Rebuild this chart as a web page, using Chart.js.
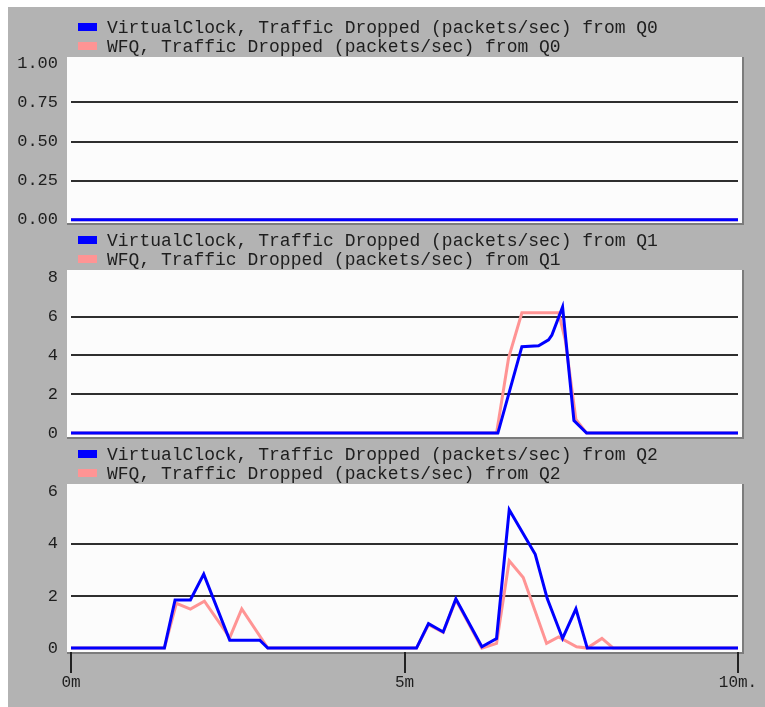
<!DOCTYPE html>
<html>
<head>
<meta charset="utf-8">
<script src="https://cdn.jsdelivr.net/npm/chart.js@4/dist/chart.umd.min.js"></script>
<style>
  body { margin: 0; background: #fff; }
  #page { position: relative; width: 765px; height: 707px; overflow: hidden; }
  #frame { position: absolute; left: 8px; top: 7px; width: 757px; height: 700px; background: #b3b3b3; }
  canvas { position: absolute; left: 0; }
</style>
</head>
<body>
<div id="page">
  <div id="frame"></div>
  <canvas id="c0" width="765" height="228" style="top:0px"></canvas>
  <canvas id="c1" width="765" height="214" style="top:228px"></canvas>
  <canvas id="c2" width="765" height="265" style="top:442px"></canvas>
</div>
<script>
// ── Datos ──────────────────────────────────────────────
const xTicks = [0, 5, 10];
const xTickLabels = ['0m', '5m', '10m.'];

const q0Ticks = [0, 0.25, 0.5, 0.75, 1];
const q0TickLabels = ['0.00', '0.25', '0.50', '0.75', '1.00'];
const q0Time = [0, 10];
const q0VC = [0, 0];
const q0WFQ = [0, 0];

const q1Ticks = [0, 2, 4, 6, 8];
const q1TickLabels = ['0', '2', '4', '6', '8'];
const q1VCTime = [0, 6.40, 6.76, 7.01, 7.16, 7.21, 7.37, 7.54, 7.73, 10];
const q1VC = [0, 0, 4.45, 4.5, 4.8, 5.05, 6.5, 0.65, 0, 0];
const q1WFQTime = [0, 6.38, 6.56, 6.76, 7.31, 7.41, 7.57, 7.73, 10];
const q1WFQ = [0, 0, 3.86, 6.2, 6.2, 4.8, 0.7, 0, 0];

const q2Ticks = [0, 2, 4, 6];
const q2TickLabels = ['0', '2', '4', '6'];
const q2VCTime = [0, 1.40, 1.56, 1.79, 1.99, 2.38, 2.83, 2.95, 5.18, 5.36, 5.58, 5.77, 6.16, 6.38, 6.57, 6.96, 7.14, 7.37, 7.57, 7.74, 10];
const q2VC = [0, 0, 1.85, 1.85, 2.84, 0.3, 0.3, 0, 0, 0.94, 0.62, 1.89, 0.05, 0.37, 5.31, 3.6, 1.9, 0.37, 1.51, 0, 0];
const q2WFQTime = [0, 1.40, 1.58, 1.79, 2.00, 2.38, 2.56, 2.95, 5.18, 5.36, 5.58, 5.77, 6.16, 6.38, 6.57, 6.78, 7.13, 7.31, 7.58, 7.74, 7.96, 8.13, 10];
const q2WFQ = [0, 0, 1.72, 1.5, 1.8, 0.4, 1.5, 0, 0, 0.9, 0.6, 1.85, 0, 0.18, 3.35, 2.71, 0.18, 0.43, 0.05, 0, 0.37, 0, 0];

const BLUE = '#0000ff', PINK = '#ff9494';
const FONT = "'Liberation Mono', 'DejaVu Sans Mono', monospace";
Chart.defaults.font.family = FONT;
Chart.defaults.color = '#1e1e1e';

const pts = (t, v) => t.map((x, i) => ({ x, y: v[i] }));

// ── Plugins: fondo blanco + leyenda ────────────────────
const plotBg = {
    id: 'plotBg',
    beforeDraw(chart) {
        const { ctx, chartArea: a } = chart;
        ctx.save();
        ctx.fillStyle = '#fcfcfc';
        ctx.fillRect(a.left - 4, a.top, a.right - a.left + 8, a.bottom - a.top);
        ctx.fillStyle = '#7c7c7c';
        ctx.fillRect(a.right + 4, a.top, 2, a.bottom - a.top + 2);
        ctx.fillRect(a.left - 4, a.bottom, a.right - a.left + 10, 2);
        ctx.restore();
    }
};
const legendBox = {
    id: 'legendBox',
    afterDraw(chart) {
        const { ctx, chartArea: a } = chart;
        ctx.save();
        ctx.font = '18px ' + FONT;
        ctx.textBaseline = 'middle';
        chart.data.datasets.forEach((ds, i) => {
            const y = a.top - 30 + i * 19;
            ctx.fillStyle = ds.borderColor;
            ctx.fillRect(78, y - 4, 19, 8);
            ctx.fillStyle = '#1e1e1e';
            ctx.fillText(ds.label, 107, y + 1);
        });
        ctx.restore();
    }
};

function makePanel(id, q, series, ticks, tickLabels, yMin, yMax, padTop, showX) {
    const top = ticks[ticks.length - 1];
    return new Chart(document.getElementById(id), {
        type: 'line',
        data: {
            datasets: [
                { label: `VirtualClock, Traffic Dropped (packets/sec) from ${q}`, data: series[0], borderColor: BLUE },
                { label: `WFQ, Traffic Dropped (packets/sec) from ${q}`, data: series[1], borderColor: PINK },
            ].map(d => ({ ...d, borderWidth: 3, pointRadius: 0, tension: 0, fill: false, clip: false }))
        },
        options: {
            responsive: false, animation: false,
            layout: { padding: { left: 0, right: 27, top: padTop, bottom: showX ? 10 : 5 } },
            plugins: { legend: { display: false }, tooltip: { enabled: false } },
            scales: {
                x: {
                    type: 'linear', min: 0, max: 10, display: showX,
                    afterBuildTicks: s => { s.ticks = xTicks.map(value => ({ value })); },
                    afterFit: s => { s.height = showX ? 45 : 0; },
                    grid: { drawOnChartArea: false, drawTicks: true, tickLength: 21, color: '#222', lineWidth: 2 },
                    border: { display: false },
                    ticks: { padding: 0, font: { size: 16 }, callback: v => xTickLabels[xTicks.indexOf(v)] }
                },
                y: {
                    min: yMin, max: yMax,
                    afterBuildTicks: s => { s.ticks = ticks.map(value => ({ value })); },
                    afterFit: s => { s.width = 71; s.paddingTop = 0; s.paddingBottom = 0; },
                    grid: {
                        drawTicks: false, lineWidth: 2,
                        color: c => (c.tick && (c.tick.value === 0 || c.tick.value === top)) ? 'rgba(0,0,0,0)' : '#2e2e2e'
                    },
                    border: { display: false },
                    ticks: { padding: 13, font: { size: 17 }, callback: v => tickLabels[ticks.indexOf(v)] }
                }
            }
        },
        plugins: [plotBg, legendBox]
    });
}

makePanel('c0', 'Q0', [pts(q0Time, q0VC), pts(q0Time, q0WFQ)], q0Ticks, q0TickLabels, -0.02, 1.04, 57, false);
makePanel('c1', 'Q1', [pts(q1VCTime, q1VC), pts(q1WFQTime, q1WFQ)], q1Ticks, q1TickLabels, -0.2, 8.4, 42, false);
makePanel('c2', 'Q2', [pts(q2VCTime, q2VC), pts(q2WFQTime, q2WFQ)], q2Ticks, q2TickLabels, -0.15, 6.3, 42, true);
</script>
</body>
</html>
